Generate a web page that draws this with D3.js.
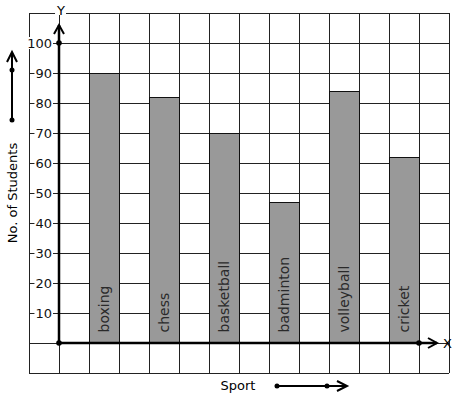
<!DOCTYPE html>
<html><head><meta charset="utf-8">
<script src="https://cdn.jsdelivr.net/npm/d3@7"></script>
<style>body{margin:0;background:#fff}svg{display:block}text{font-family:"DejaVu Sans",sans-serif}</style>
</head><body><svg id="c" width="457" height="399"></svg>
<script>
const sports = ["boxing","chess","basketball","badminton","volleyball","cricket"];
const students = [90,82,70,47,84,62];
const yTicks = [10,20,30,40,50,60,70,80,90,100];
const yTitle = "No. of Students";
const xTitle = "Sport";

const svg = d3.select("#c");
const gx = d3.scaleLinear().domain([-1,13]).range([29,449]);
const y = d3.scaleLinear().domain([-10,110]).range([373,13]);
const x0 = gx(0), y0 = y(0);

// grid
const grid = svg.append("g").attr("stroke","#222").attr("stroke-width",1).attr("shape-rendering","crispEdges");
d3.range(-1,14).forEach(i=>grid.append("line").attr("x1",gx(i)).attr("x2",gx(i)).attr("y1",y(110)).attr("y2",y(-10)));
d3.range(-10,111,10).forEach(v=>grid.append("line").attr("x1",gx(-1)).attr("x2",gx(13)).attr("y1",y(v)).attr("y2",y(v)));

// bars
const bars = svg.append("g");
sports.forEach((s,i)=>{
  const xl = gx(1+2*i), xr = gx(2+2*i);
  bars.append("rect").attr("x",xl).attr("y",y(students[i])).attr("width",xr-xl).attr("height",y0-y(students[i]))
    .attr("fill","#999").attr("stroke","#111").attr("stroke-width",1).attr("shape-rendering","crispEdges");
  bars.append("text").attr("transform",`translate(${(xl+xr)/2+5},${y(3.5)}) rotate(-90)`)
    .attr("font-size",14).attr("fill","#2a2a2a").text(s);
});

// tick labels with white background
const tl = svg.append("g");
const tlBg = tl.append("g"), tlTx = tl.append("g");
yTicks.forEach(v=>{
  const t = tlTx.append("text").attr("x",52).attr("y",y(v)+5).attr("text-anchor","end").attr("font-size",13).attr("fill","#111").text(v);
  const b = t.node().getBBox();
  tlBg.append("rect").attr("x",b.x-1).attr("y",y(v)-6).attr("width",b.width+2).attr("height",12).attr("fill","#fff");
});

// axes
const ax = svg.append("g").attr("stroke","#000").attr("stroke-width",2.5).attr("fill","none");
ax.append("line").attr("x1",x0).attr("x2",x0).attr("y1",y0).attr("y2",y(106));
ax.append("path").attr("d",`M${x0-5},${y(103)}L${x0},${y(106)}L${x0+5},${y(103)}`).attr("stroke-width",2);
ax.append("line").attr("x1",x0).attr("x2",gx(12.6)).attr("y1",y0).attr("y2",y0);
ax.append("path").attr("d",`M${gx(12.3)},${y0-5}L${gx(12.6)},${y0}L${gx(12.3)},${y0+5}`).attr("stroke-width",2);
[[x0,y0],[x0,y(100)],[gx(12),y0]].forEach(p=>svg.append("circle").attr("cx",p[0]).attr("cy",p[1]).attr("r",2.8).attr("fill","#000"));

// axis letters
const ylBg = svg.append("rect");
const yl = svg.append("text").attr("x",x0+2).attr("y",y(110)+2).attr("text-anchor","middle").attr("font-size",13).text("Y");
const yb = yl.node().getBBox();
ylBg.attr("x",yb.x-1).attr("y",y(110)-1).attr("width",yb.width+2).attr("height",3).attr("fill","#fff");
svg.append("text").attr("x",443).attr("y",y0+5).attr("font-size",13).text("X");

// titles
svg.append("text").attr("transform",`translate(17,${y(50)}) rotate(-90)`).attr("text-anchor","middle").attr("font-size",13).text(yTitle);
svg.append("text").attr("x",238).attr("y",390).attr("text-anchor","middle").attr("font-size",13).text(xTitle);

// direction arrows
const da = svg.append("g").attr("stroke","#000").attr("stroke-width",2).attr("fill","none");
da.append("line").attr("x1",12).attr("x2",12).attr("y1",120).attr("y2",53);
da.append("path").attr("d","M7,62L12,52L17,62");
da.append("line").attr("x1",277).attr("x2",345).attr("y1",386).attr("y2",386);
da.append("path").attr("d","M337,381L347,386L337,391");
[[12,120],[12,70],[277,386],[327,386]].forEach(p=>svg.append("circle").attr("cx",p[0]).attr("cy",p[1]).attr("r",2.5).attr("fill","#000"));
</script></body></html>
